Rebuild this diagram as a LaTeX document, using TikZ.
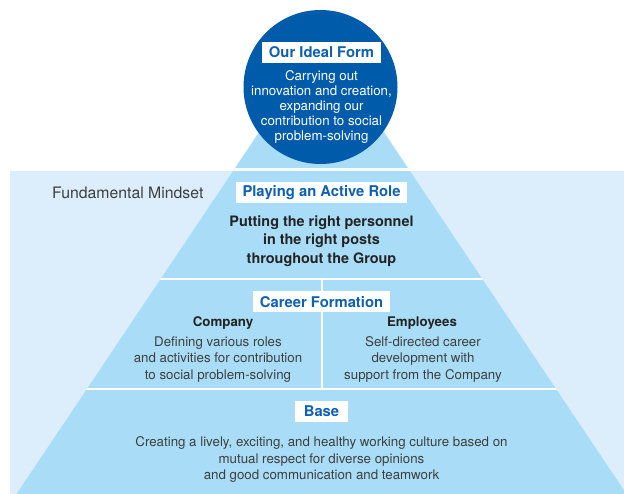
\documentclass[tikz,border=0pt]{standalone}
\usepackage{fontspec}
\setmainfont{TeX Gyre Heros}
\usetikzlibrary{positioning,calc}
\definecolor{idealblue}{RGB}{0,91,171}
\definecolor{tierblue}{RGB}{169,221,247}
\definecolor{mindblue}{RGB}{220,238,251}
\definecolor{tagblue}{RGB}{14,96,178}
\definecolor{inkgray}{RGB}{62,62,62}
\definecolor{inkdark}{RGB}{35,35,35}

\begin{document}
\begin{tikzpicture}[
  x=1pt,y=-1pt,
  tag/.style={rectangle,fill=white,text=tagblue,inner xsep=6.5pt,inner ysep=0pt,
              minimum height=21pt,font=\bfseries\fontsize{14.8}{17}\selectfont},
  ideal/.style={circle,fill=idealblue,inner sep=0pt,minimum size=154pt},
  idealtxt/.style={align=center,text=white,inner sep=0pt,font=\fontsize{13.3}{15}\selectfont},
  lead/.style={align=center,text=inkdark,inner sep=0pt,font=\bfseries\fontsize{14.4}{18.3}\selectfont},
  side/.style={align=center,text=inkdark,inner sep=0pt,font=\bfseries\fontsize{13.3}{15}\selectfont},
  body/.style={align=center,text=inkgray,inner sep=0pt,font=\fontsize{13.3}{16.6}\selectfont},
  gap/.style={white,line width=2pt}
]
\useasboundingbox (0,0) rectangle (624,494);
\clip (0,0) rectangle (624,494);

% mindset field behind the pyramid
\fill[mindblue] (10,171) rectangle (624,494);
\coordinate (apex) at (321.5,39);
\coordinate (baseL) at (16.5,494);
\coordinate (baseR) at (626.5,494);
\fill[tierblue] (apex) -- (baseL) -- (baseR) -- cycle;

% white gaps between the tiers
\begin{scope}
  \clip (apex) -- (baseL) -- (baseR) -- cycle;
  \draw[gap,line width=2.5pt] (0,169.7) -- (624,169.7);
  \draw[gap] (0,279) -- (624,279);
  \draw[gap] (0,389) -- (624,389);
  \draw[gap] (321.5,279) -- (321.5,389);
\end{scope}

\node[ideal] (ideal) at (320.5,87) {};
\node[tag] (idealtag) at (321.5,52.5) {Our Ideal Form};
\node[idealtxt] (idealtext) at (321.5,106.7)
  {Carrying out\\innovation and creation,\\expanding our\\contribution to social\\problem-solving};

\node[anchor=west,inner sep=0pt,text=inkgray,font=\fontsize{15.8}{18}\selectfont]
  (mindset) at (52,192.5) {Fundamental Mindset};

\node[tag] (roletag) at (321.5,192.5) {Playing an Active Role};
\node[lead] (roletext) at (321.5,241)
  {Putting the right personnel\\in the right posts\\throughout the Group};

\node[tag] (careertag) at (321.5,302) {Career Formation};
\node[side] (company) at (223,323.3) {Company};
\node[body] (companytext) at (218,359.3)
  {Defining various roles\\and activities for contribution\\to social problem-solving};
\node[side] (employees) at (422,323.3) {Employees};
\node[body] (employeestext) at (423,359.3)
  {Self-directed career\\development with\\support from the Company};

\node[tag,minimum width=53pt] (basetag) at (321.5,411) {Base};
\node[body] (basetext) at (321.5,459.8)
  {Creating a lively, exciting, and healthy working culture based on\\mutual respect for diverse opinions\\and good communication and teamwork};
\end{tikzpicture}
\end{document}
